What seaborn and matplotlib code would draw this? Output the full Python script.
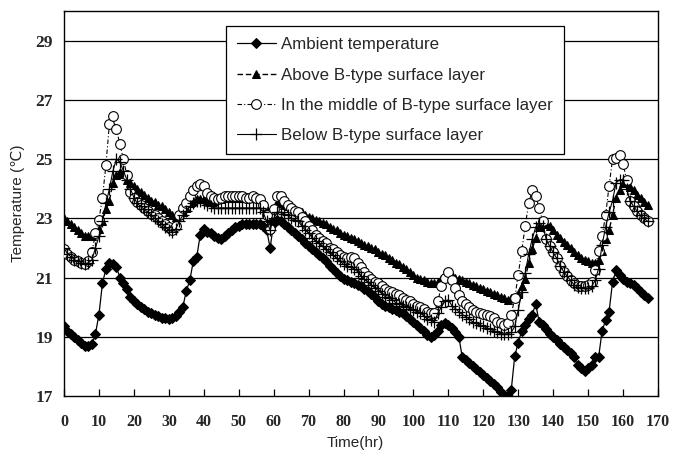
import numpy as np
import pandas as pd
import seaborn as sns
import matplotlib
matplotlib.use("Agg")
import matplotlib.pyplot as plt

hours = np.arange(0, 168)

ambient = [
    19.35, 19.2, 19.1, 19.0, 18.9, 18.8, 18.68, 18.7, 18.75, 19.1,
    19.75, 20.8, 21.3, 21.5, 21.45, 21.35, 21.0, 20.8, 20.6, 20.35,
    20.2, 20.1, 20.0, 19.95, 19.85, 19.8, 19.75, 19.7, 19.65, 19.63,
    19.6, 19.62, 19.7, 19.85, 20.0, 20.55, 20.9, 21.55, 21.7, 22.45,
    22.65, 22.55, 22.5, 22.4, 22.35, 22.3, 22.4, 22.5, 22.6, 22.7,
    22.75, 22.8, 22.8, 22.8, 22.8, 22.8, 22.8, 22.75, 22.6, 22.0,
    22.85, 22.95, 22.9, 22.8, 22.7, 22.6, 22.5, 22.4, 22.3, 22.15,
    22.05, 21.95, 21.85, 21.75, 21.65, 21.55, 21.4, 21.3, 21.15, 21.05,
    20.95, 20.9, 20.85, 20.8, 20.75, 20.7, 20.6, 20.55, 20.45, 20.35,
    20.2, 20.1, 20.05, 20.0, 19.95, 19.9, 19.85, 19.8, 19.7, 19.6,
    19.5, 19.4, 19.3, 19.2, 19.05, 19.0, 19.05, 19.2, 19.4, 19.45,
    19.4, 19.3, 19.15, 19.0, 18.3, 18.2, 18.1, 18.0, 17.9, 17.8,
    17.7, 17.6, 17.5, 17.4, 17.3, 17.15, 17.05, 17.0, 17.2, 18.35,
    18.8, 19.2, 19.4, 19.6, 19.75, 20.1, 19.5, 19.4, 19.25, 19.1,
    19.0, 18.9, 18.75, 18.65, 18.55, 18.45, 18.3, 18.05, 17.95, 17.85,
    17.95, 18.05, 18.3, 18.3, 19.2, 19.55, 19.85, 20.85, 21.25, 21.1,
    20.95, 20.85, 20.8, 20.75, 20.65, 20.5, 20.4, 20.3,
]

above = [
    23.0, 22.9, 22.8, 22.7, 22.6, 22.5, 22.4, 22.4, 22.4, 22.5,
    22.65, 22.9, 23.3, 23.6, 24.2, 24.45, 24.55, 24.5, 24.3, 24.2,
    24.1, 24.0, 23.9, 23.8, 23.7, 23.6, 23.55, 23.45, 23.4, 23.3,
    23.2, 23.1, 23.05, 23.1, 23.2, 23.35, 23.5, 23.6, 23.65, 23.65,
    23.65, 23.6, 23.55, 23.6, 23.65, 23.65, 23.7, 23.7, 23.7, 23.7,
    23.7, 23.7, 23.7, 23.7, 23.7, 23.7, 23.65, 23.6, 23.3, 23.0,
    23.3, 23.5, 23.5, 23.45, 23.4, 23.35, 23.3, 23.25, 23.2, 23.1,
    23.05, 23.0, 22.95, 22.9, 22.85, 22.8, 22.7, 22.65, 22.6, 22.5,
    22.45, 22.4, 22.35, 22.3, 22.25, 22.15, 22.1, 22.05, 22.0, 21.95,
    21.85, 21.8, 21.75, 21.65, 21.6, 21.5, 21.45, 21.35, 21.3, 21.2,
    21.1, 21.0, 20.95, 20.9, 20.85, 20.8, 20.8, 20.85, 20.95, 21.1,
    21.15, 21.1, 21.0, 20.95, 20.9, 20.85, 20.8, 20.75, 20.7, 20.65,
    20.6, 20.55, 20.5, 20.45, 20.4, 20.35, 20.3, 20.25, 20.3, 20.35,
    20.45, 20.7, 20.95, 21.5, 21.95, 22.35, 22.7, 22.85, 22.8, 22.75,
    22.6, 22.45, 22.35, 22.2, 22.1, 22.0, 21.85, 21.75, 21.65, 21.6,
    21.55, 21.5, 21.5, 21.6, 21.9, 22.3, 22.6, 23.1, 23.7, 23.95,
    24.2, 24.2, 24.05, 23.95, 23.8, 23.7, 23.55, 23.45,
]

middle = [
    21.95, 21.8, 21.7, 21.6, 21.55, 21.5, 21.45, 21.55, 21.85, 22.5,
    22.95, 23.7, 24.8, 26.2, 26.45, 26.0, 25.5, 25.0, 24.45, 23.9,
    23.7, 23.55, 23.45, 23.35, 23.25, 23.15, 23.1, 23.0, 22.9, 22.8,
    22.7, 22.62, 22.75, 23.1, 23.35, 23.5, 23.75, 23.95, 24.1, 24.15,
    24.1, 23.85, 23.75, 23.7, 23.65, 23.7, 23.75, 23.75, 23.75, 23.75,
    23.75, 23.75, 23.7, 23.7, 23.75, 23.7, 23.65, 23.45, 23.1, 22.65,
    23.3, 23.75, 23.75, 23.6, 23.45, 23.35, 23.25, 23.2, 23.05, 22.9,
    22.75, 22.6, 22.45, 22.35, 22.25, 22.15, 22.0, 21.95, 21.85, 21.77,
    21.7, 21.65, 21.7, 21.65, 21.5, 21.35, 21.2, 21.05, 20.95, 20.85,
    20.8, 20.7, 20.6, 20.55, 20.5, 20.45, 20.4, 20.3, 20.25, 20.2,
    20.1, 20.05, 20.0, 19.95, 19.85, 19.8, 19.8, 20.2, 20.7, 21.0,
    21.2, 20.9, 20.65, 20.4, 20.2, 20.1, 20.0, 19.9, 19.85, 19.8,
    19.78, 19.75, 19.7, 19.63, 19.5, 19.45, 19.4, 19.45, 19.75, 20.3,
    21.1, 21.9, 22.75, 23.5, 23.95, 23.75, 23.35, 22.9, 22.3, 22.05,
    21.85, 21.65, 21.4, 21.2, 21.05, 20.9, 20.8, 20.72, 20.7, 20.7,
    20.75, 20.85, 21.25, 21.9, 22.4, 23.1, 24.1, 25.0, 25.05, 25.15,
    24.85, 24.3, 23.6, 23.4, 23.25, 23.1, 23.0, 22.9,
]

below = [
    22.0, 21.8, 21.7, 21.6, 21.55, 21.5, 21.45, 21.5, 21.6, 22.0,
    22.4, 22.9, 23.5, 24.0, 24.6, 25.0, 24.9, 24.6, 24.3, 24.0,
    23.7, 23.5, 23.4, 23.3, 23.2, 23.1, 23.0, 22.9, 22.8, 22.7,
    22.6, 22.55, 22.65, 22.9, 23.1, 23.25, 23.4, 23.5, 23.6, 23.6,
    23.5, 23.45, 23.4, 23.35, 23.35, 23.35, 23.35, 23.35, 23.35, 23.35,
    23.35, 23.35, 23.35, 23.35, 23.35, 23.35, 23.35, 23.2, 22.9, 22.6,
    23.0, 23.2, 23.2, 23.15, 23.1, 23.0, 22.95, 22.9, 22.75, 22.6,
    22.5, 22.35, 22.25, 22.15, 22.05, 21.95, 21.85, 21.75, 21.65, 21.55,
    21.45, 21.4, 21.35, 21.3, 21.2, 21.05, 20.95, 20.85, 20.75, 20.65,
    20.55, 20.45, 20.35, 20.3, 20.25, 20.15, 20.1, 20.05, 20.0, 19.95,
    19.9, 19.85, 19.8, 19.7, 19.6, 19.55, 19.5, 19.8, 20.0, 20.2,
    20.25, 20.05, 19.95, 19.85, 19.75, 19.68, 19.6, 19.5, 19.45, 19.4,
    19.35, 19.3, 19.25, 19.2, 19.15, 19.1, 19.1, 19.1, 19.15, 19.35,
    19.9, 20.5, 21.15, 21.8, 22.3, 22.7, 22.85, 22.75, 22.3, 22.05,
    21.85, 21.65, 21.4, 21.2, 21.05, 20.9, 20.75, 20.68, 20.65, 20.65,
    20.65, 20.7, 20.9, 21.3, 22.1, 22.7, 23.2, 23.6, 24.2, 24.3,
    24.3, 24.0, 23.6, 23.4, 23.25, 23.1, 23.0, 22.9,
]

labels = [
    "Ambient temperature",
    "Above B-type surface layer",
    "In the middle of B-type surface layer",
    "Below B-type surface layer",
]
x_ticks = [0, 10, 20, 30, 40, 50, 60, 70, 80, 90, 100, 110, 120, 130, 140, 150, 160, 170]
y_ticks = [17, 19, 21, 23, 25, 27, 29]

sns.set_style("white")
plt.rcParams["font.family"] = ["Liberation Sans", "DejaVu Sans"]

fig = plt.figure(figsize=(6.73, 4.5), dpi=100)
ax = fig.add_axes([0.0951, 0.12, 0.8826, 0.8556])

for yv in y_ticks[1:]:
    ax.axhline(yv, color="black", lw=0.9, zorder=0)

sns.lineplot(x=hours, y=ambient, ax=ax, color="black", lw=0.9, marker="D",
             markersize=5, markeredgecolor="black", markerfacecolor="black",
             label=labels[0], sort=False, zorder=3)
sns.lineplot(x=hours, y=above, ax=ax, color="black", lw=1.0, linestyle=(0, (4, 2)),
             marker="^", markersize=6, markeredgecolor="black", markerfacecolor="black",
             label=labels[1], sort=False, zorder=4)
sns.lineplot(x=hours, y=middle, ax=ax, color="black", lw=0.8, linestyle=(0, (4, 2, 1, 2)),
             marker="o", markersize=7, markeredgecolor="black", markerfacecolor="white",
             markeredgewidth=0.8, label=labels[2], sort=False, zorder=5)
sns.lineplot(x=hours, y=below, ax=ax, color="black", lw=0.8,
             marker="+", markersize=8, markeredgecolor="black", markeredgewidth=0.9,
             label=labels[3], sort=False, zorder=6)

ax.set_xlim(0, 170)
ax.set_ylim(17, 30)
ax.set_xticks(x_ticks)
ax.set_yticks(y_ticks)
ax.set_xticklabels([str(v) for v in x_ticks], family="Liberation Serif",
                   fontweight="bold", fontsize=11.5)
ax.set_yticklabels([str(v) for v in y_ticks], family="Liberation Serif",
                   fontweight="bold", fontsize=12.5)
ax.tick_params(axis="x", direction="in", length=5, width=0.9, color="black", pad=13, bottom=True)
ax.tick_params(axis="y", length=0, pad=8)

for s in ax.spines.values():
    s.set_color("black")
    s.set_linewidth(1.0)

ax.set_xlabel("Time(hr)", fontsize=11)
ax.xaxis.set_label_coords(0.49, -0.105)
ax.set_ylabel("Temperature (℃)", fontsize=11)
ax.yaxis.set_label_coords(-0.066, 0.5)

leg = ax.legend(loc="upper left", bbox_to_anchor=(0.2727, 0.96), frameon=True,
                fancybox=False, edgecolor="black", fontsize=12.2,
                handlelength=2.3, labelspacing=0.9, borderpad=0.65,
                handletextpad=0.3, borderaxespad=0)
leg.get_frame().set_linewidth(0.9)
leg.get_frame().set_alpha(1)

fig.savefig("out.png", dpi=100)
